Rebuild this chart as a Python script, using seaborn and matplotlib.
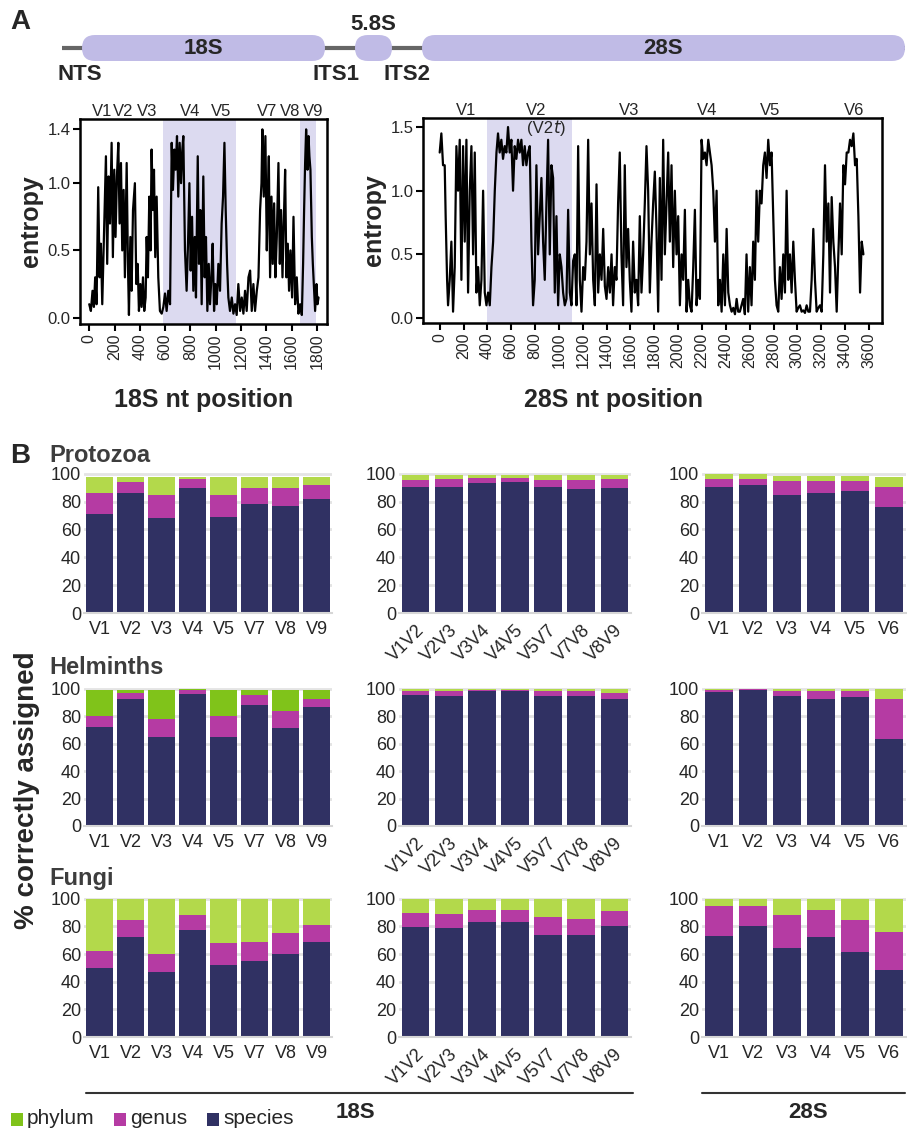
import numpy as np
import pandas as pd
import matplotlib
matplotlib.use('Agg')
import matplotlib.pyplot as plt
from matplotlib.patches import FancyBboxPatch
import seaborn as sns

# ---- panel A: entropy profiles (positions in nt) ----
ent18_pos = [0, 13, 26, 37, 47, 58, 71, 82, 92, 103, 116, 132, 142, 153, 164, 177, 187, 198, 208, 219,
             230, 240, 251, 261, 272, 282, 296, 306, 314, 325, 335, 346, 361, 372, 383, 393, 404, 414, 425, 435,
             446, 454, 464, 475, 485, 493, 504, 512, 522, 533, 546, 559, 573, 586, 599, 612, 625, 639, 652, 662,
             673, 683, 694, 704, 715, 726, 736, 744, 757, 770, 781, 792, 802, 813, 823, 834, 844, 858, 868, 879,
             889, 902, 913, 923, 934, 945, 955, 966, 976, 987, 997, 1008, 1021, 1034, 1047, 1058, 1069, 1079, 1090, 1100,
             1113, 1127, 1140, 1153, 1166, 1179, 1193, 1206, 1219, 1232, 1245, 1259, 1272, 1285, 1298, 1311, 1325, 1338, 1351, 1362,
             1369, 1380, 1393, 1404, 1412, 1420, 1430, 1441, 1451, 1462, 1472, 1483, 1496, 1507, 1517, 1528, 1538, 1549, 1559, 1570,
             1580, 1591, 1604, 1615, 1628, 1641, 1654, 1668, 1681, 1691, 1699, 1707, 1715, 1726, 1734, 1741, 1749, 1760, 1768, 1776,
             1786, 1797, 1805, 1813]
ent18_val = [0.10, 0.05, 0.20, 0.08, 0.30, 0.10, 0.97, 0.30, 0.55, 0.10, 0.60, 1.20, 0.40, 1.05, 0.70, 1.30, 0.45, 1.10, 0.60, 1.05,
             1.30, 0.70, 1.15, 0.50, 0.95, 0.30, 1.15, 0.40, 0.02, 0.60, 0.20, 0.80, 1.00, 0.25, 0.40, 0.05, 0.25, 0.08, 0.30, 0.05,
             0.15, 0.60, 0.30, 0.90, 0.50, 1.25, 0.80, 1.10, 0.45, 0.90, 0.30, 0.05, 0.03, 0.08, 0.18, 0.05, 0.20, 0.10, 1.30, 0.95,
             1.25, 1.10, 1.35, 0.90, 1.30, 1.00, 1.25, 1.35, 0.50, 0.20, 0.55, 1.00, 0.35, 0.75, 0.20, 0.60, 0.15, 1.20, 0.40, 0.80,
             0.10, 1.05, 0.30, 0.60, 0.05, 0.40, 0.10, 0.30, 0.55, 0.05, 0.25, 0.10, 0.40, 0.20, 0.70, 0.90, 1.30, 0.80, 0.40, 0.15,
             0.05, 0.15, 0.03, 0.10, 0.02, 0.25, 0.05, 0.15, 0.03, 0.20, 0.05, 0.30, 0.35, 0.05, 0.25, 0.05, 0.20, 0.30, 0.80, 1.00,
             1.40, 0.90, 1.35, 0.50, 0.90, 1.20, 0.30, 0.90, 0.40, 0.85, 0.30, 0.60, 1.15, 0.40, 0.80, 0.30, 0.70, 1.10, 0.30, 0.55,
             0.20, 0.50, 0.15, 0.75, 0.10, 0.30, 0.03, 0.10, 0.02, 0.40, 0.80, 1.15, 1.40, 1.10, 1.35, 1.20, 1.10, 0.60, 0.40, 0.25,
             0.05, 0.25, 0.10, 0.15]

ent28_pos = [0, 14, 28, 42, 50, 62, 70, 84, 98, 112, 126, 140, 154, 168, 182, 196, 210, 224, 238, 252,
             266, 280, 294, 308, 322, 336, 350, 364, 378, 392, 406, 420, 434, 448, 462, 476, 489, 503, 517, 531,
             545, 559, 573, 587, 601, 615, 629, 643, 657, 671, 685, 699, 713, 727, 741, 755, 769, 783, 797, 811,
             825, 839, 853, 867, 881, 895, 909, 923, 937, 951, 965, 979, 993, 1007, 1021, 1035, 1049, 1063, 1077, 1091,
             1105, 1119, 1133, 1147, 1161, 1175, 1189, 1203, 1217, 1231, 1245, 1259, 1273, 1287, 1301, 1315, 1329, 1343, 1357, 1371,
             1385, 1399, 1413, 1427, 1441, 1454, 1468, 1482, 1496, 1510, 1524, 1538, 1552, 1566, 1580, 1594, 1608, 1622, 1636, 1650,
             1664, 1678, 1692, 1706, 1720, 1734, 1748, 1762, 1776, 1790, 1804, 1818, 1832, 1846, 1860, 1874, 1888, 1902, 1916, 1930,
             1944, 1958, 1972, 1986, 2000, 2014, 2028, 2042, 2056, 2070, 2084, 2098, 2112, 2126, 2140, 2154, 2168, 2182, 2196, 2210,
             2224, 2238, 2252, 2266, 2280, 2294, 2308, 2322, 2336, 2350, 2364, 2378, 2392, 2406, 2420, 2434, 2448, 2462, 2476, 2490,
             2503, 2517, 2531, 2545, 2559, 2573, 2587, 2601, 2615, 2629, 2643, 2657, 2671, 2685, 2699, 2713, 2727, 2741, 2755, 2769,
             2783, 2797, 2811, 2825, 2839, 2853, 2867, 2881, 2895, 2909, 2923, 2937, 2951, 2965, 2979, 2993, 3007, 3021, 3035, 3049,
             3063, 3077, 3091, 3105, 3119, 3133, 3147, 3161, 3175, 3189, 3203, 3217, 3231, 3245, 3259, 3273, 3287, 3301, 3315, 3329,
             3343, 3357, 3371, 3385, 3399, 3413, 3427, 3441, 3455, 3469, 3483, 3497, 3511, 3525, 3539, 3553]
ent28_val = [1.30, 1.45, 1.20, 1.20, 0.80, 0.30, 0.10, 0.30, 0.60, 0.05, 0.40, 1.35, 1.00, 1.40, 0.30, 1.35, 0.60, 1.40, 0.20, 1.00,
             1.35, 0.50, 1.30, 0.20, 0.40, 0.10, 0.30, 1.00, 0.20, 0.10, 0.20, 0.10, 0.40, 0.60, 1.00, 1.30, 1.45, 1.30, 1.40, 1.25,
             1.35, 1.30, 1.50, 1.30, 1.40, 1.00, 1.35, 1.25, 1.40, 1.30, 1.40, 1.20, 1.35, 1.20, 1.30, 1.35, 0.60, 0.10, 0.30, 1.20,
             0.50, 0.80, 1.10, 0.60, 0.30, 0.90, 1.40, 0.50, 1.20, 1.10, 0.20, 0.80, 0.10, 0.50, 0.40, 0.20, 0.10, 0.15, 0.85, 0.20,
             0.10, 0.45, 0.50, 0.10, 1.35, 0.30, 0.05, 0.40, 0.30, 0.60, 1.40, 0.50, 0.90, 0.30, 0.10, 1.05, 0.20, 0.50, 0.30, 0.70,
             0.25, 0.15, 0.40, 0.20, 0.50, 0.10, 0.40, 0.30, 0.90, 1.30, 0.50, 0.10, 1.20, 0.40, 0.70, 0.30, 0.05, 0.60, 0.20, 0.30,
             0.10, 0.80, 0.20, 0.50, 0.90, 1.35, 1.00, 0.20, 0.60, 0.90, 1.15, 0.70, 0.05, 1.10, 0.30, 1.40, 0.50, 0.90, 1.30, 0.60,
             1.20, 0.40, 1.00, 0.50, 0.80, 0.10, 0.50, 0.30, 0.85, 0.05, 0.30, 0.10, 0.05, 0.40, 0.85, 0.10, 0.30, 0.15, 1.40, 1.25,
             1.30, 1.20, 1.40, 1.30, 1.20, 1.00, 0.60, 1.00, 0.10, 0.30, 0.05, 0.50, 0.10, 0.70, 0.20, 0.10, 0.05, 0.08, 0.03, 0.15,
             0.05, 0.05, 0.10, 0.15, 0.03, 0.50, 0.05, 0.40, 0.10, 0.60, 0.30, 1.00, 0.60, 1.00, 0.90, 1.20, 1.30, 1.10, 1.40, 1.20,
             1.30, 0.80, 0.30, 0.10, 0.05, 0.40, 0.15, 0.50, 0.20, 1.00, 0.30, 0.50, 0.20, 0.60, 0.30, 0.05, 0.08, 0.10, 0.05, 0.06,
             0.04, 0.10, 0.05, 0.05, 0.30, 0.70, 0.30, 0.05, 0.08, 0.10, 0.05, 0.50, 1.20, 0.60, 0.90, 0.20, 0.95, 0.60, 0.40, 0.05,
             0.50, 0.90, 0.50, 1.20, 1.05, 1.30, 1.30, 1.40, 1.35, 1.45, 1.20, 1.25, 0.80, 0.20, 0.60, 0.50]

v18_labels = ['V1', 'V2', 'V3', 'V4', 'V5', 'V7', 'V8', 'V9']
v18_label_pos = [98, 267, 454, 797, 1040, 1404, 1589, 1771]
v28_labels = ['V1', 'V2', 'V3', 'V4', 'V5', 'V6']
v28_label_pos = [218, 811, 1589, 2246, 2769, 3474]
shade18 = [(586, 1159), (1668, 1792)]
shade28 = [(397, 1113)]

# ---- panel B: % correctly assigned at species / genus / phylum level ----
cats18 = ['V1', 'V2', 'V3', 'V4', 'V5', 'V7', 'V8', 'V9']
cats18p = ['V1V2', 'V2V3', 'V3V4', 'V4V5', 'V5V7', 'V7V8', 'V8V9']
cats28 = ['V1', 'V2', 'V3', 'V4', 'V5', 'V6']

proto18_species = [71, 86, 68, 90, 69, 78, 77, 82]
proto18_genus = [86, 94, 85, 96, 85, 90, 90, 92]
proto18_phylum = [98, 98, 98, 98, 98, 98, 98, 98]
proto18p_species = [90.5, 90.5, 93.6, 94, 90.5, 89, 90]
proto18p_genus = [95.5, 96, 97, 97, 95.5, 95.5, 96]
proto18p_phylum = [99, 99, 99, 99, 99, 99, 99]
proto28_species = [90.5, 92, 85, 86.5, 87.7, 76.5]
proto28_genus = [96, 96.4, 94.8, 94.8, 94.8, 90.5]
proto28_phylum = [99.5, 99.5, 98.3, 98.3, 98.3, 97.9]

helm18_species = [72, 92.5, 64.7, 96.4, 64.7, 88.3, 71.5, 86.6]
helm18_genus = [80.3, 96.8, 77.9, 99, 79.8, 95.6, 83.9, 92.5]
helm18_phylum = [99.3, 99.3, 99.3, 99.5, 99.3, 98.8, 99.3, 99.3]
helm18p_species = [95.6, 94.4, 98, 98, 94.4, 94.4, 92.5]
helm18p_genus = [98, 98, 99.3, 99.3, 98, 98, 96.8]
helm18p_phylum = [99.8, 99.5, 99.8, 99.8, 99.5, 99.5, 99.8]
helm28_species = [97.3, 98.8, 94.4, 92.5, 93.7, 63.5]
helm28_genus = [99.3, 99.8, 98.5, 98.5, 98.5, 92.7]
helm28_phylum = [100, 100, 100, 100, 100, 100]

fungi18_species = [50.2, 72, 47, 77.2, 52.2, 55, 60.4, 69]
fungi18_genus = [62.4, 84.7, 60.4, 88.6, 68, 69, 75.2, 81.3]
fungi18_phylum = [99.5, 99.5, 99.5, 100, 100, 100, 99.5, 99.5]
fungi18p_species = [79.4, 78.6, 83, 83.5, 74, 73.5, 80.3]
fungi18p_genus = [90, 89.3, 91.7, 92.2, 86.7, 85.4, 90.8]
fungi18p_phylum = [100, 100, 100, 100, 100, 100, 100]
fungi28_species = [72.8, 80, 64.6, 72.3, 61.2, 48.5]
fungi28_genus = [94.7, 95, 87.9, 91.7, 85, 75.7]
fungi28_phylum = [100, 100, 100, 100, 100, 100]

GREEN_DARK = '#80c31a'
GREEN = '#b3d94b'
MAGENTA = '#b53ba3'
NAVY = '#303163'
LAVENDER = '#c0bbe6'
SHADE = '#dcdaf0'

sns.set_theme(style='white')
plt.rcParams['font.family'] = ['Liberation Sans', 'DejaVu Sans']

W, H = 907, 1131
fig = plt.figure(figsize=(W / 100, H / 100), dpi=100)


def ax_px(l, t, r, b):
    return fig.add_axes([l / W, 1 - b / H, (r - l) / W, (b - t) / H])


# overlay axes in pixel units for the schematic and labels
over = fig.add_axes([0, 0, 1, 1], zorder=5)
over.set_xlim(0, W)
over.set_ylim(H, 0)
over.axis('off')
over.patch.set_alpha(0)

# ---- gene schematic ----
over.plot([62, 905], [48, 48], color='#666666', lw=3, solid_capstyle='butt', zorder=1)
for x0, x1, lab in [(82, 325, '18S'), (422, 905, '28S')]:
    over.add_patch(FancyBboxPatch((x0, 35), x1 - x0, 26, boxstyle='round,pad=0,rounding_size=13',
                                  fc=LAVENDER, ec='none', zorder=2))
    over.text((x0 + x1) / 2, 48, lab, ha='center', va='center', fontsize=16, fontweight='bold', zorder=3)
over.add_patch(FancyBboxPatch((355, 35), 37, 26, boxstyle='round,pad=0,rounding_size=13',
                              fc=LAVENDER, ec='none', zorder=2))
over.text(373, 24, '5.8S', ha='center', va='center', fontsize=16, fontweight='bold')
for x, lab in [(80, 'NTS'), (336, 'ITS1'), (407, 'ITS2')]:
    over.text(x, 75, lab, ha='center', va='center', fontsize=16, fontweight='bold')
over.text(10, 22, 'A', ha='left', va='center', fontsize=20, fontweight='bold')
over.text(10, 456, 'B', ha='left', va='center', fontsize=20, fontweight='bold')


# ---- entropy panels ----
def entropy_panel(ax, pos, val, shades, labels, lab_pos, xmax, yticks, xlim, ylim):
    for a, b in shades:
        ax.axvspan(a, b, color=SHADE, lw=0, zorder=0)
    sns.lineplot(x=pos, y=val, ax=ax, color='black', lw=1.6, zorder=2)
    ax.set_xlim(*xlim)
    ax.set_ylim(*ylim)
    ax.set_xticks(np.arange(0, xmax + 1, 200))
    ax.set_xticklabels([str(v) for v in range(0, xmax + 1, 200)], rotation=90, fontsize=11.5)
    ax.set_yticks(yticks)
    ax.set_yticklabels(['%.1f' % v for v in yticks], fontsize=12)
    ax.tick_params(axis='both', direction='out', length=5, width=1.5, color='black', bottom=True, left=True, pad=2)
    for s in ax.spines.values():
        s.set_linewidth(1.8)
        s.set_color('black')
    ax.set_ylabel('entropy', fontsize=18, fontweight='bold', labelpad=3)
    ax.set_xlabel('')
    for lab, p in zip(labels, lab_pos):
        ax.text(p, 1.0, lab, transform=ax.get_xaxis_transform(), ha='center', va='bottom', fontsize=12)


ax18 = ax_px(80, 119, 327, 324)
entropy_panel(ax18, ent18_pos, ent18_val, shade18, v18_labels, v18_label_pos, 1800,
              [0.0, 0.5, 1.0, 1.4], (-73, 1880), (-0.047, 1.477))
ax28 = ax_px(423, 118, 882, 323)
entropy_panel(ax28, ent28_pos, ent28_val, shade28, v28_labels, v28_label_pos, 3600,
              [0.0, 0.5, 1.0, 1.5], (-140, 3709), (-0.039, 1.571))
ax28.text(951, 1.49, '(V2', ha='right', va='center', fontsize=12, zorder=3)
ax28.text(951, 1.49, r'$\it{t}$)', ha='left', va='center', fontsize=12, zorder=3)
over.text(204, 400, '18S nt position', ha='center', va='center', fontsize=18, fontweight='bold')
over.text(614, 400, '28S nt position', ha='center', va='center', fontsize=18, fontweight='bold')


# ---- stacked bar panels ----
def bar_panel(ax, cats, species, genus, phylum, green, rotate=False):
    df = pd.DataFrame({'region': cats, 'species': species, 'genus': genus, 'phylum': phylum})
    for col, c in [('phylum', green), ('genus', MAGENTA), ('species', NAVY)]:
        sns.barplot(data=df, x='region', y=col, order=cats, color=c, saturation=1,
                    width=0.84, errorbar=None, linewidth=0, ax=ax, zorder=2)
    ax.set_xlim(-0.5, len(cats) - 0.5)
    ax.set_ylim(0, 102)
    ax.set_yticks(range(0, 101, 20))
    ax.set_yticklabels([str(v) for v in range(0, 101, 20)], fontsize=13)
    ax.yaxis.grid(True, color='#e4e4e4', lw=2, zorder=0)
    ax.set_axisbelow(True)
    for s in ['left', 'top', 'right']:
        ax.spines[s].set_visible(False)
    ax.spines['bottom'].set_color('#d6d6d6')
    ax.spines['bottom'].set_linewidth(1.5)
    ax.tick_params(axis='y', length=0, pad=2)
    ax.tick_params(axis='x', length=0, pad=6)
    ax.set_xlabel('')
    ax.set_ylabel('')
    ax.set_xticks(range(len(cats)))
    if rotate:
        ax.set_xticklabels(cats, rotation=45, ha='right', rotation_mode='anchor', fontsize=13)
    else:
        ax.set_xticklabels(cats, fontsize=13)


rows = [
    ('Protozoa', 471, 613, 455,
     (proto18_species, proto18_genus, proto18_phylum, GREEN),
     (proto18p_species, proto18p_genus, proto18p_phylum, GREEN),
     (proto28_species, proto28_genus, proto28_phylum, GREEN)),
    ('Helminths', 686, 826, 668,
     (helm18_species, helm18_genus, helm18_phylum, GREEN_DARK),
     (helm18p_species, helm18p_genus, helm18p_phylum, GREEN),
     (helm28_species, helm28_genus, helm28_phylum, GREEN)),
    ('Fungi', 896, 1037, 878,
     (fungi18_species, fungi18_genus, fungi18_phylum, GREEN),
     (fungi18p_species, fungi18p_genus, fungi18p_phylum, GREEN),
     (fungi28_species, fungi28_genus, fungi28_phylum, GREEN)),
]
for name, top, bot, ty, d18, d18p, d28 in rows:
    a1 = ax_px(84, top, 332, bot)
    bar_panel(a1, cats18, *d18)
    a2 = ax_px(399, top, 631, bot)
    bar_panel(a2, cats18p, *d18p, rotate=True)
    a3 = ax_px(702, top, 906, bot)
    bar_panel(a3, cats28, *d28)
    over.text(49, ty, name, ha='left', va='center', fontsize=17, fontweight='bold', color='#3d3d3d')

over.text(27, 790, '% correctly assigned', rotation=90, ha='center', va='center', fontsize=20, fontweight='bold')

# group lines and labels
over.plot([86, 633], [1093, 1093], color='#333333', lw=1.5)
over.plot([702, 905], [1093, 1093], color='#333333', lw=1.5)
over.text(355, 1112, '18S', ha='center', va='center', fontsize=16, fontweight='bold')
over.text(808, 1112, '28S', ha='center', va='center', fontsize=16, fontweight='bold')

# legend
for x, c, lab in [(11, GREEN_DARK, 'phylum'), (114, MAGENTA, 'genus'), (207, NAVY, 'species')]:
    over.add_patch(plt.Rectangle((x, 1113), 12, 13, fc=c, ec='none'))
    over.text(x + 16, 1119, lab, ha='left', va='center', fontsize=15)

fig.savefig('out.png', dpi=100)
